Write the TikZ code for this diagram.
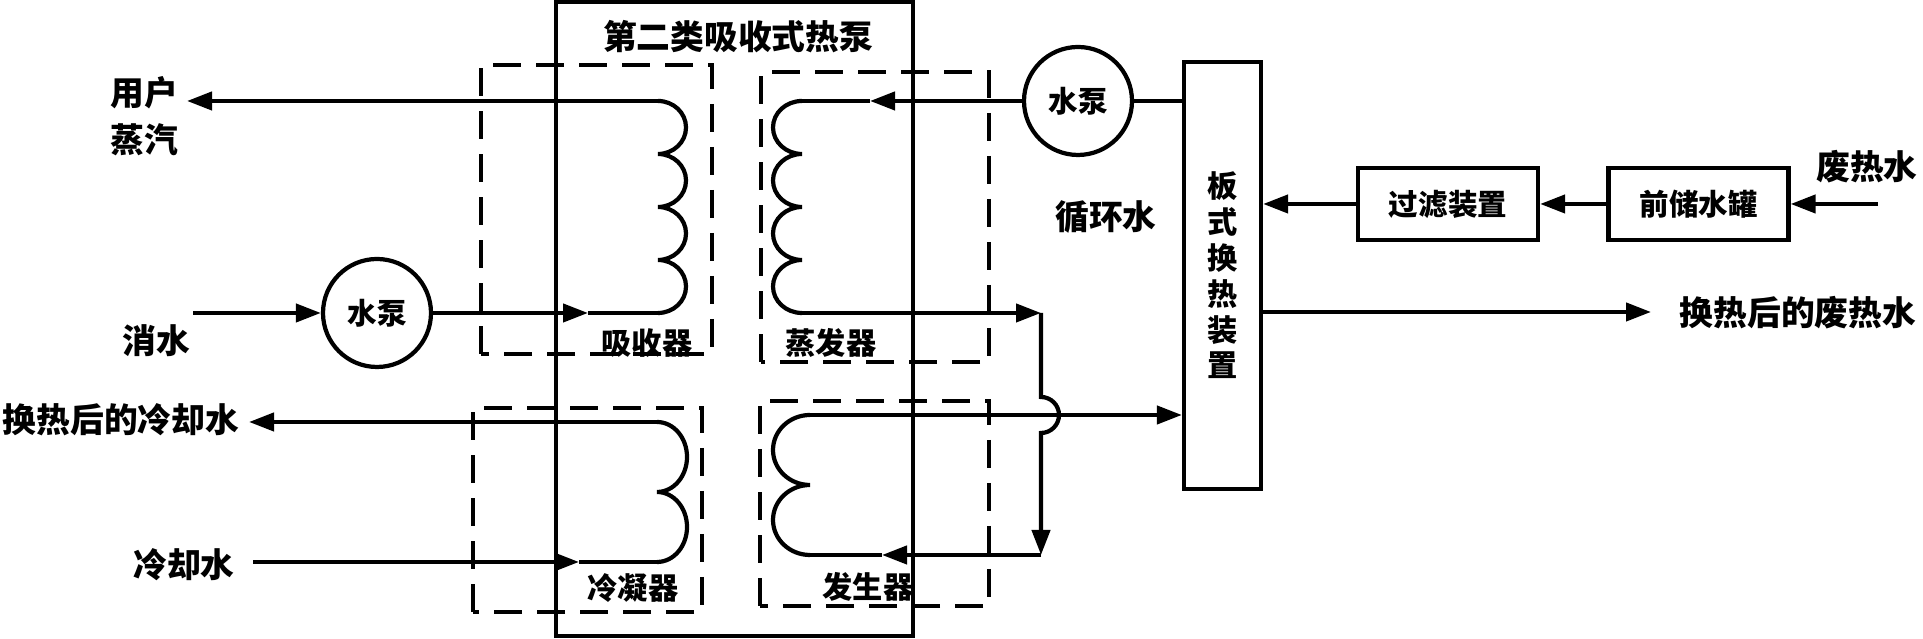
\documentclass[tikz,border=0pt]{standalone}
\usepackage{fontspec}
\setmainfont{Noto Sans CJK SC}
\usetikzlibrary{arrows.meta}

\tikzset{
  pipe/.style={line width=1.2pt},
  flow/.style={pipe,-{Triangle[length=2.5mm,width=1.8mm]}},
  unit/.style={line width=1.3pt,dash pattern=on 2.8mm off 1.5mm},
  pump/.style={circle,draw,line width=1.2pt,minimum size=1.08cm,inner sep=0pt,font=\fontsize{8.4pt}{10pt}\selectfont\bfseries},
  devbox/.style={draw,line width=1.2pt,minimum width=1.8cm,minimum height=0.72cm,inner sep=0pt,font=\fontsize{8.4pt}{10pt}\selectfont\bfseries},
  lab/.style={inner sep=0pt,font=\fontsize{9.6pt}{11pt}\selectfont\bfseries},
  sublab/.style={inner sep=0pt,font=\fontsize{8.6pt}{10pt}\selectfont\bfseries}
}

\begin{document}
\begin{tikzpicture}
  \useasboundingbox (0,0) rectangle (19.23,6.39);
  % dashed units
  \draw[unit] (4.81,2.85) rectangle (7.12,5.74);
  \draw[unit] (7.61,2.77) rectangle (9.89,5.67);
  \draw[unit] (4.73,0.27) rectangle (7.02,2.31);
  \draw[unit] (7.60,0.33) rectangle (9.89,2.38);
  % heat pump casing
  \node[draw,pipe,minimum width=3.57cm,minimum height=6.34cm,inner sep=0pt] (hp) at (7.345,3.20) {};
  \node[lab] (title) at (7.38,6.02) {第二类吸收式热泵};
  \node[sublab] (absLab) at (6.47,2.96) {吸收器};
  \node[sublab] (evaLab) at (8.31,2.96) {蒸发器};
  \node[sublab] (conLab) at (6.33,0.51) {冷凝器};
  \node[sublab] (genLab) at (8.68,0.52) {发生器};

  % coil ends
  \coordinate (absT) at (6.58,5.38);
  \coordinate (absB) at (6.58,3.26);
  \coordinate (evaT) at (8.02,5.38);
  \coordinate (evaB) at (8.02,3.26);
  \coordinate (conT) at (6.57,2.17);
  \coordinate (conB) at (6.57,0.77);
  \coordinate (genT) at (8.10,2.24);
  \coordinate (genB) at (8.10,0.84);

  % coils
  \draw[pipe] (absT) \foreach \k in {1,...,4}{arc[start angle=90,end angle=-90,x radius=0.28,y radius=0.265]};
  \draw[pipe] (evaT) \foreach \k in {1,...,4}{arc[start angle=90,end angle=270,x radius=0.29,y radius=0.265]};
  \draw[pipe] (conT) \foreach \k in {1,2}{arc[start angle=90,end angle=-90,x radius=0.30,y radius=0.35]};
  \draw[pipe] (genT) \foreach \k in {1,2}{arc[start angle=90,end angle=270,x radius=0.37,y radius=0.35]};

  % left side
  \node[lab] (user) at (1.44,5.46) {用户};
  \node[lab] (steamLab) at (1.44,4.99) {蒸汽};
  \node[lab] (waterLab) at (1.56,2.98) {消水};
  \node[lab] (cwOutLab) at (1.21,2.19) {换热后的冷却水};
  \node[lab] (cwLab) at (1.84,0.74) {冷却水};
  \node[pump] (pumpL) at (3.77,3.26) {水泵};

  \coordinate (steam) at (1.87,5.38);
  \coordinate (waterIn) at (1.93,3.26);
  \coordinate (absA) at (5.88,3.26);
  \coordinate (cwOut) at (2.49,2.17);
  \coordinate (cwIn) at (2.53,0.77);
  \coordinate (conA) at (5.79,0.77);

  \draw[flow] (absT) -- (steam);
  \draw[flow] (waterIn) -- (pumpL);
  \draw[flow] (pumpL) -- (absA);
  \draw[pipe] (absA) -- (absB);
  \draw[flow] (conT) -- (cwOut);
  \draw[flow] (cwIn) -- (conA);
  \draw[pipe] (conA) -- (conB);

  % right side
  \node[pump] (pumpR) at (10.78,5.38) {水泵};
  \node[draw,pipe,minimum width=0.77cm,minimum height=4.27cm,inner sep=0pt,align=center,
        font=\fontsize{8.6pt}{10.2pt}\selectfont\bfseries] (hx) at (12.225,3.635) {板\\式\\换\\热\\装\\置};
  \node[lab] (loopLab) at (11.06,4.22) {循环水};
  \node[devbox] (filter) at (14.48,4.35) {过滤装置};
  \node[devbox] (tank) at (16.985,4.35) {前储水罐};
  \node[lab] (wasteLab) at (18.67,4.72) {废热水};
  \node[lab] (wasteOutLab) at (17.98,3.26) {换热后的废热水};

  \coordinate (evaA) at (8.70,5.38);
  \coordinate (turn1) at (10.41,3.26);
  \coordinate (turn2) at (10.41,0.84);
  \coordinate (genA) at (8.82,0.84);
  \coordinate (wasteIn) at (18.78,4.35);
  \coordinate (wasteOut) at (16.51,3.27);

  \draw[flow] (pumpR) -- (evaA);
  \draw[pipe] (evaA) -- (evaT);
  \draw[pipe] (pumpR) -- (pumpR -| hx.west);
  \draw[flow] (evaB) -- (turn1);
  \draw[flow] (turn1) -- (10.41,2.42) arc[start angle=90,end angle=-90,radius=0.18] -- (turn2);
  \draw[flow] (turn2) -- (genA);
  \draw[pipe] (genA) -- (genB);
  \draw[flow] (genT) -- (genT -| hx.west);
  \draw[flow] (filter) -- (filter.west -| hx.east);
  \draw[flow] (tank) -- (filter);
  \draw[flow] (wasteIn) -- (tank);
  \draw[flow] (hx.east |- wasteOut) -- (wasteOut);
\end{tikzpicture}
\end{document}
